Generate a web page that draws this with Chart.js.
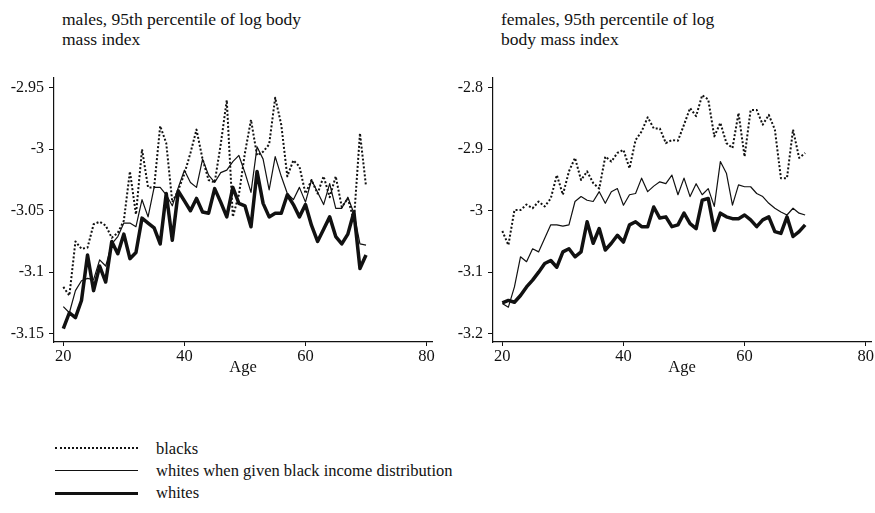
<!DOCTYPE html>
<html>
<head>
<meta charset="utf-8">
<script src="https://cdn.jsdelivr.net/npm/chart.js@4/dist/chart.umd.min.js"></script>
<style>
  html, body { margin: 0; padding: 0; background: #fff; }
  body { width: 875px; height: 513px; position: relative; overflow: hidden;
         font-family: 'Liberation Serif', 'Times New Roman', serif; color: #111; }
  canvas { position: absolute; top: 0; }
  .ttl { position: absolute; font-size: 17.5px; line-height: 19.7px; white-space: nowrap; }
  .lg-text { position: absolute; left: 156px; font-size: 16.5px; line-height: 20px; white-space: nowrap; }
  .lg-line { position: absolute; left: 55px; width: 83px; height: 0; }
</style>
</head>
<body>
<div class="ttl" style="left:62px; top:10px;">males, 95th percentile of log body<br>mass index</div>
<div class="ttl" style="left:501px; top:10px;">females, 95th percentile of log<br>body mass index</div>

<canvas id="males" width="440" height="380" style="left:0; width:440px; height:380px;"></canvas>
<canvas id="females" width="438" height="380" style="left:437px; width:438px; height:380px;"></canvas>

<div class="lg-line" style="top:447px; border-top:2px dotted #111;"></div>
<div class="lg-text" style="top:438.7px;">blacks</div>
<div class="lg-line" style="top:470px; border-top:1.3px solid #111;"></div>
<div class="lg-text" style="top:460.7px;">whites when given black income distribution</div>
<div class="lg-line" style="top:492.3px; border-top:3.5px solid #111;"></div>
<div class="lg-text" style="top:482.7px;">whites</div>

<script>
// Ages 20 to 70, one observation per year
const ages = [20,21,22,23,24,25,26,27,28,29,30,31,32,33,34,35,36,37,38,39,40,
              41,42,43,44,45,46,47,48,49,50,51,52,53,54,55,56,57,58,59,60,
              61,62,63,64,65,66,67,68,69,70];

const ageTicks = [20, 40, 60, 80];
const maleYTicks = [-3.15, -3.1, -3.05, -3, -2.95];
const femaleYTicks = [-3.2, -3.1, -3, -2.9, -2.8];

// Males: 95th percentile of log body mass index
const maleBlacks = [
  -3.112,-3.119,-3.075,-3.081,-3.080,-3.061,-3.059,-3.062,-3.072,-3.068,-3.058,
  -3.018,-3.053,-3.000,-3.031,-3.031,-2.981,-2.995,-3.043,-3.033,-3.020,
  -3.003,-2.984,-3.008,-3.025,-3.027,-2.996,-2.960,-3.055,-3.037,-3.003,
  -2.976,-3.005,-3.002,-2.996,-2.958,-2.980,-3.022,-3.009,-3.014,-3.036,
  -3.025,-3.036,-3.022,-3.039,-3.022,-3.047,-3.040,-3.058,-2.987,-3.030];
const maleWhitesBlackIncome = [
  -3.128,-3.133,-3.115,-3.107,-3.105,-3.106,-3.090,-3.095,-3.077,-3.071,-3.060,
  -3.060,-3.063,-3.041,-3.055,-3.031,-3.031,-3.037,-3.046,-3.031,-3.017,
  -3.027,-3.031,-3.008,-3.021,-3.027,-3.019,-3.017,-3.010,-3.005,-3.019,
  -3.035,-2.998,-3.008,-3.033,-3.006,-3.022,-3.036,-3.041,-3.031,-3.043,
  -3.025,-3.035,-3.045,-3.028,-3.048,-3.048,-3.039,-3.052,-3.077,-3.078];
const maleWhites = [
  -3.146,-3.133,-3.137,-3.123,-3.086,-3.115,-3.095,-3.108,-3.075,-3.085,-3.069,
  -3.089,-3.084,-3.056,-3.060,-3.064,-3.077,-3.036,-3.074,-3.034,-3.042,
  -3.050,-3.040,-3.051,-3.052,-3.032,-3.043,-3.055,-3.031,-3.044,-3.046,
  -3.063,-3.018,-3.044,-3.055,-3.052,-3.052,-3.037,-3.045,-3.055,-3.045,
  -3.062,-3.075,-3.065,-3.055,-3.071,-3.077,-3.069,-3.051,-3.097,-3.086];

// Females: 95th percentile of log body mass index
const femaleBlacks = [
  -3.033,-3.056,-2.999,-2.999,-2.990,-2.996,-2.985,-2.993,-2.980,-2.942,-2.974,
  -2.936,-2.914,-2.950,-2.936,-2.955,-2.964,-2.912,-2.920,-2.906,-2.901,
  -2.931,-2.885,-2.871,-2.848,-2.866,-2.866,-2.890,-2.885,-2.886,-2.860,
  -2.833,-2.846,-2.812,-2.819,-2.879,-2.857,-2.890,-2.898,-2.841,-2.912,
  -2.836,-2.836,-2.860,-2.844,-2.868,-2.947,-2.947,-2.868,-2.914,-2.906];
const femaleWhitesBlackIncome = [
  -3.151,-3.157,-3.124,-3.075,-3.083,-3.062,-3.067,-3.045,-3.023,-3.023,-3.025,
  -3.023,-2.985,-2.977,-2.983,-2.985,-2.969,-2.988,-2.969,-2.964,-2.991,
  -2.974,-2.972,-2.947,-2.969,-2.960,-2.953,-2.956,-2.942,-2.974,-2.947,
  -2.977,-2.956,-2.974,-2.964,-2.993,-2.920,-2.939,-2.991,-2.958,-2.961,
  -2.961,-2.972,-2.977,-2.988,-2.996,-3.002,-3.007,-2.996,-3.004,-3.007];
const femaleWhites = [
  -3.150,-3.146,-3.149,-3.138,-3.124,-3.113,-3.100,-3.086,-3.081,-3.092,-3.067,
  -3.062,-3.075,-3.067,-3.018,-3.053,-3.029,-3.064,-3.053,-3.040,-3.051,
  -3.023,-3.018,-3.026,-3.026,-2.994,-3.012,-3.010,-3.026,-3.023,-3.004,
  -3.021,-3.029,-2.983,-2.980,-3.032,-3.004,-3.010,-3.013,-3.013,-3.007,
  -3.015,-3.026,-3.015,-3.010,-3.034,-3.037,-3.010,-3.042,-3.034,-3.023];

const ink = '#111';
Chart.defaults.font.family = "'Liberation Serif', 'Times New Roman', serif";
Chart.defaults.color = ink;

function makeChart(id, series, yTicks, yMin, yMax, yWidth, padRight) {
  const [blacks, whitesBlackIncome, whites] = series;
  return new Chart(document.getElementById(id), {
    type: 'line',
    data: {
      labels: ages,
      datasets: [
        { label: 'blacks', data: blacks, borderColor: ink, borderWidth: 2,
          borderDash: [2, 2], pointRadius: 0, tension: 0, borderJoinStyle: 'round' },
        { label: 'whites when given black income distribution', data: whitesBlackIncome,
          borderColor: ink, borderWidth: 1.2, pointRadius: 0, tension: 0, borderJoinStyle: 'round' },
        { label: 'whites', data: whites, borderColor: ink, borderWidth: 3.5,
          pointRadius: 0, tension: 0, borderJoinStyle: 'round' }
      ]
    },
    options: {
      responsive: false,
      animation: false,
      devicePixelRatio: 1,
      layout: { padding: { left: 0, top: 78, right: padRight, bottom: 0 } },
      plugins: { legend: { display: false }, tooltip: { enabled: false }, title: { display: false } },
      scales: {
        x: {
          type: 'linear',
          min: 18.46, max: 80.9,
          afterBuildTicks: s => { s.ticks = ageTicks.map(v => ({ value: v })); },
          afterFit: s => { s.height = 38; },
          ticks: { font: { size: 16.5 }, color: ink, padding: 1, maxRotation: 0, autoSkip: false },
          grid: { display: true, drawOnChartArea: false, drawTicks: true, tickLength: 4,
                  color: ink, lineWidth: 1 },
          border: { display: true, color: ink, width: 1.2 },
          title: { display: true, text: 'Age', font: { size: 16.5 }, color: ink,
                   padding: { top: 0, bottom: 2 } }
        },
        y: {
          min: yMin, max: yMax,
          afterBuildTicks: s => { s.ticks = yTicks.map(v => ({ value: v })); },
          afterFit: s => { s.width = yWidth; },
          ticks: { font: { size: 16 }, color: ink, padding: 5,
                   callback: v => String(+v.toFixed(2)) },
          grid: { display: true, drawOnChartArea: false, drawTicks: true, tickLength: 5,
                  color: ink, lineWidth: 1 },
          border: { display: true, color: ink, width: 1.2 }
        }
      }
    }
  });
}

makeChart('males', [maleBlacks, maleWhitesBlackIncome, maleWhites],
          maleYTicks, -3.1568, -2.942, 54, 8);
makeChart('females', [femaleBlacks, femaleWhitesBlackIncome, femaleWhites],
          femaleYTicks, -3.2137, -2.784, 56, 3);
</script>
</body>
</html>
